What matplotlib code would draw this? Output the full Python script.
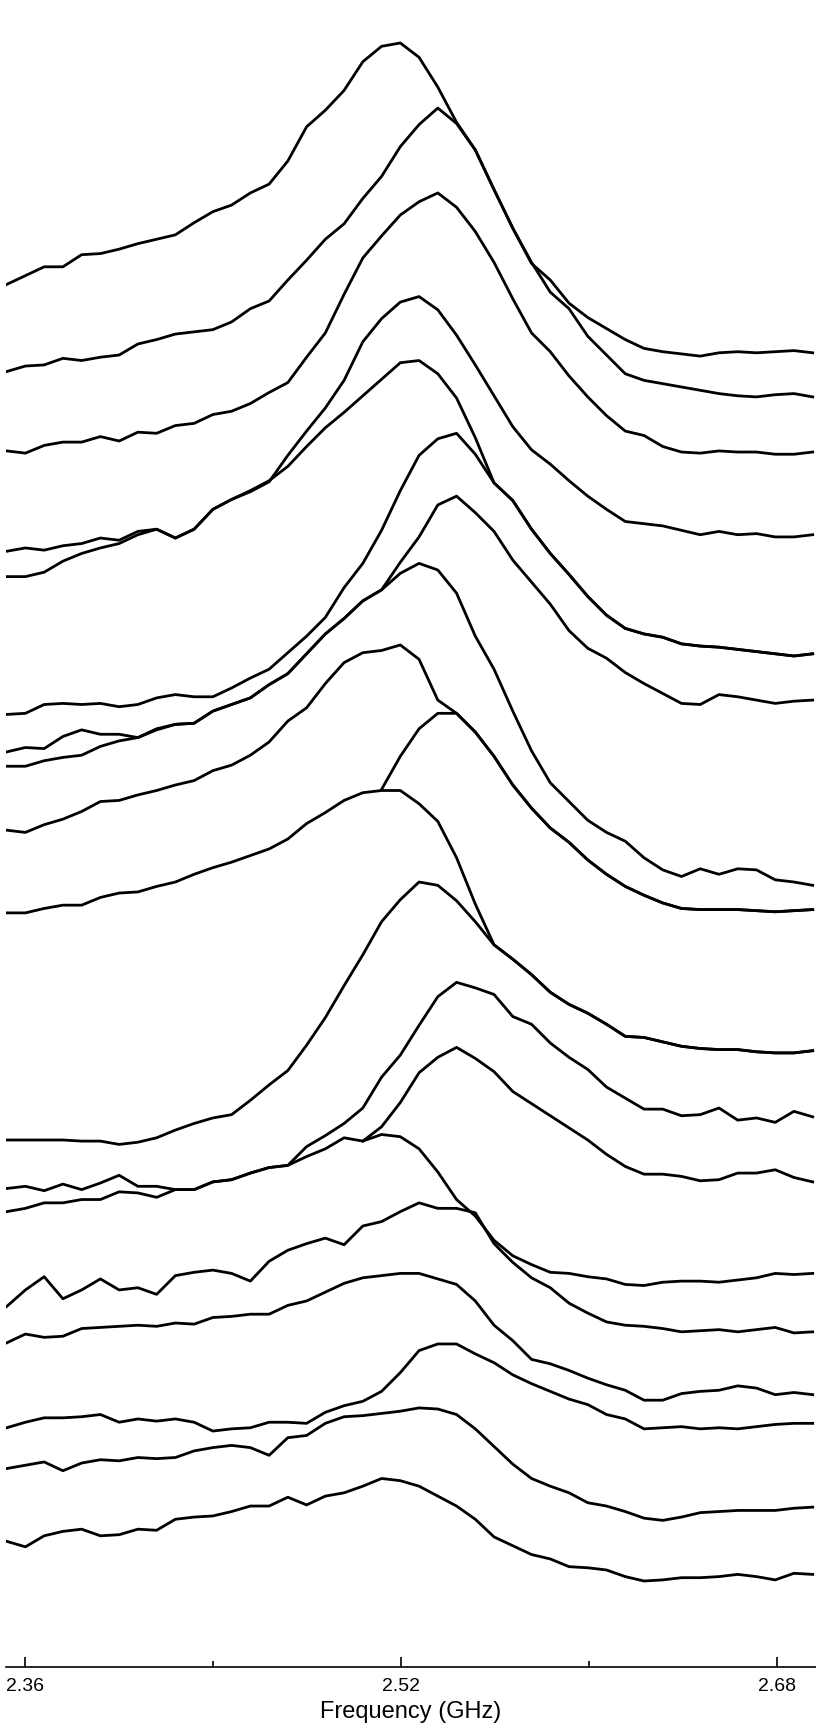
import numpy as np
import matplotlib
matplotlib.use('Agg')
import matplotlib.pyplot as plt

plt.rcParams['font.family'] = ['Liberation Sans', 'DejaVu Sans']

# sample grid of the spectra (GHz)
freq = np.linspace(2.3522, 2.6954, 44)
nan = np.nan

# spectra, top to bottom, already offset (arbitrary units)
A = [12.54, 12.62, 12.70, 12.70, 12.81, 12.82, 12.86, 12.91, 12.95, 12.99, 13.10, 13.20, 13.26, 13.37, 13.45,
     13.66, 13.97, 14.12, 14.30, 14.56, 14.70, 14.73, 14.60, 14.33, 14.01, 13.76, 13.40, 13.05, 12.73, 12.58,
     12.37, 12.24, 12.14, 12.04, 11.96, 11.93, 11.91, 11.89, 11.92, 11.93, 11.92, 11.93, 11.94, 11.92]
B = [11.75, 11.80, 11.81, 11.87, 11.85, 11.88, 11.90, 12.00, 12.04, 12.09, 12.11, 12.13, 12.20, 12.32, 12.39,
     12.58, 12.76, 12.95, 13.09, 13.32, 13.52, 13.79, 13.99, 14.14, 14.00, 13.76, 13.40, 13.05, 12.74, 12.47,
     12.32, 12.07, 11.90, 11.73, 11.67, 11.64, 11.61, 11.58, 11.55, 11.53, 11.52, 11.54, 11.55, 11.52]
C = [11.03, 11.01, 11.08, 11.11, 11.11, 11.16, 11.12, 11.20, 11.19, 11.26, 11.28, 11.36, 11.39, 11.46, 11.56,
     11.65, 11.88, 12.10, 12.45, 12.78, 12.98, 13.17, 13.29, 13.37, 13.24, 13.02, 12.74, 12.41, 12.10, 11.93,
     11.71, 11.52, 11.35, 11.21, 11.17, 11.07, 11.02, 11.01, 11.03, 11.02, 11.02, 11.00, 11.00, 11.02]
D = [10.12, 10.15, 10.13, 10.17, 10.19, 10.24, 10.22, 10.30, 10.32, 10.24, 10.32, 10.50, 10.59, 10.66, 10.75,
     10.99, 11.21, 11.42, 11.67, 12.02, 12.23, 12.38, 12.43, 12.31, 12.08, 11.81, 11.53, 11.25, 11.04, 10.91,
     10.76, 10.62, 10.50, 10.39, 10.37, 10.35, 10.31, 10.27, 10.30, 10.27, 10.28, 10.25, 10.25, 10.27]
E = [9.89, 9.89, 9.93, 10.03, 10.10, 10.15, 10.19, 10.27, 10.32, 10.24, 10.32, 10.50, 10.59, 10.67, 10.76,
     10.89, 11.07, 11.24, 11.38, 11.53, 11.68, 11.83, 11.85, 11.73, 11.51, 11.15, 10.74, 10.58, 10.32, 10.10,
     9.91, 9.71, 9.54, 9.42, 9.37, 9.34, 9.28, 9.26, 9.25, 9.23, 9.21, 9.19, 9.17, 9.19]
F = [8.64, 8.65, 8.73, 8.74, 8.73, 8.74, 8.71, 8.73, 8.79, 8.82, 8.80, 8.80, 8.88, 8.97, 9.05,
     9.20, 9.35, 9.52, 9.79, 10.01, 10.31, 10.67, 10.99, 11.14, 11.19, 11.00, 10.74, 10.58, 10.32, 10.10,
     9.91, 9.71, 9.54, 9.42, 9.37, 9.34, 9.28, 9.26, 9.25, 9.23, 9.21, 9.19, 9.17, 9.19]
G = [8.30, 8.34, 8.33, 8.44, 8.50, 8.46, 8.46, 8.43, 8.51, 8.55, 8.56, 8.67, 8.73, 8.79, 8.91,
     9.01, 9.19, 9.37, 9.51, 9.67, 9.77, 10.02, 10.25, 10.54, 10.62, 10.47, 10.30, 10.04, 9.84, 9.64,
     9.40, 9.24, 9.15, 9.02, 8.92, 8.83, 8.74, 8.73, 8.82, 8.80, 8.77, 8.74, 8.76, 8.77]
H = [8.17, 8.17, 8.22, 8.25, 8.27, 8.35, 8.40, 8.43, 8.50, 8.55, 8.56, 8.67, 8.73, 8.79, 8.91,
     9.01, 9.19, 9.37, 9.51, 9.67, 9.77, 9.92, 10.01, 9.95, 9.74, 9.35, 9.05, 8.67, 8.31, 8.02,
     7.85, 7.68, 7.57, 7.49, 7.34, 7.23, 7.17, 7.24, 7.19, 7.24, 7.23, 7.14, 7.12, 7.09]
I = [7.59, 7.57, 7.64, 7.69, 7.76, 7.85, 7.86, 7.91, 7.95, 8.00, 8.04, 8.13, 8.18, 8.27, 8.39,
     8.58, 8.70, 8.92, 9.11, 9.20, 9.22, 9.27, 9.14, 8.77, 8.65, 8.48, 8.26, 8.00, 7.79, 7.61,
     7.48, 7.32, 7.19, 7.08, 7.00, 6.93, 6.88, 6.87, 6.87, 6.87, 6.86, 6.85, 6.86, 6.87]
# this one has no data below ~2.50 GHz
K = [nan] * 20 + [7.96, 8.26, 8.51, 8.65, 8.65, 8.48, 8.26, 8.00, 7.79, 7.61, 7.48, 7.32, 7.19, 7.08, 7.00,
                  6.93, 6.88, 6.87, 6.87, 6.87, 6.86, 6.85, 6.86, 6.87]
J = [6.84, 6.84, 6.88, 6.91, 6.91, 6.98, 7.02, 7.03, 7.08, 7.12, 7.19, 7.25, 7.30, 7.36, 7.42,
     7.51, 7.65, 7.75, 7.86, 7.93, 7.95, 7.95, 7.83, 7.67, 7.34, 6.92, 6.55, 6.42, 6.28, 6.12,
     6.01, 5.93, 5.83, 5.72, 5.71, 5.67, 5.63, 5.61, 5.60, 5.60, 5.58, 5.57, 5.57, 5.59]
L = [4.78, 4.78, 4.78, 4.78, 4.77, 4.77, 4.74, 4.76, 4.80, 4.87, 4.93, 4.98, 5.01, 5.14, 5.28,
     5.41, 5.64, 5.89, 6.18, 6.46, 6.76, 6.96, 7.12, 7.09, 6.95, 6.76, 6.55, 6.42, 6.28, 6.12,
     6.01, 5.93, 5.83, 5.72, 5.71, 5.67, 5.63, 5.61, 5.60, 5.60, 5.58, 5.57, 5.57, 5.59]
M = [4.34, 4.36, 4.32, 4.38, 4.33, 4.39, 4.46, 4.36, 4.36, 4.33, 4.33, 4.40, 4.42, 4.48, 4.53,
     4.55, 4.72, 4.82, 4.93, 5.07, 5.35, 5.55, 5.82, 6.08, 6.21, 6.16, 6.10, 5.90, 5.83, 5.66,
     5.53, 5.42, 5.26, 5.16, 5.06, 5.06, 5.00, 5.01, 5.07, 4.96, 4.98, 4.94, 5.04, 4.99]
# this one also starts late
N = [nan] * 19 + [4.77, 4.90, 5.12, 5.39, 5.53, 5.62, 5.52, 5.40, 5.22, 5.11, 5.00, 4.89, 4.78, 4.65, 4.54,
                  4.47, 4.47, 4.45, 4.41, 4.42, 4.48, 4.48, 4.51, 4.44, 4.40]
O = [4.13, 4.16, 4.21, 4.21, 4.24, 4.24, 4.31, 4.30, 4.26, 4.33, 4.33, 4.40, 4.42, 4.48, 4.53,
     4.55, 4.63, 4.70, 4.80, 4.77, 4.83, 4.81, 4.70, 4.49, 4.24, 4.09, 3.87, 3.73, 3.65, 3.58,
     3.57, 3.54, 3.52, 3.47, 3.46, 3.49, 3.50, 3.50, 3.49, 3.51, 3.53, 3.57, 3.56, 3.57]
P = [3.27, 3.42, 3.54, 3.34, 3.42, 3.52, 3.42, 3.44, 3.38, 3.55, 3.58, 3.60, 3.57, 3.50, 3.68,
     3.78, 3.84, 3.89, 3.83, 4.00, 4.04, 4.13, 4.21, 4.16, 4.16, 4.12, 3.84, 3.67, 3.53, 3.44,
     3.30, 3.21, 3.13, 3.10, 3.09, 3.07, 3.04, 3.05, 3.06, 3.04, 3.06, 3.08, 3.03, 3.04]
Q = [2.94, 3.02, 2.99, 3.00, 3.07, 3.08, 3.09, 3.10, 3.09, 3.12, 3.11, 3.17, 3.18, 3.20, 3.20,
     3.28, 3.32, 3.40, 3.48, 3.53, 3.55, 3.57, 3.57, 3.52, 3.47, 3.32, 3.10, 2.96, 2.79, 2.75,
     2.69, 2.62, 2.56, 2.51, 2.42, 2.42, 2.48, 2.50, 2.51, 2.55, 2.53, 2.47, 2.49, 2.47]
R = [2.17, 2.22, 2.26, 2.26, 2.27, 2.29, 2.22, 2.25, 2.23, 2.25, 2.22, 2.14, 2.16, 2.17, 2.22,
     2.22, 2.21, 2.31, 2.37, 2.41, 2.50, 2.67, 2.87, 2.93, 2.93, 2.84, 2.76, 2.65, 2.57, 2.50,
     2.43, 2.38, 2.29, 2.25, 2.16, 2.17, 2.18, 2.16, 2.17, 2.16, 2.18, 2.20, 2.21, 2.21]
S = [1.80, 1.83, 1.86, 1.78, 1.85, 1.88, 1.87, 1.90, 1.89, 1.90, 1.96, 1.99, 2.01, 1.99, 1.92,
     2.08, 2.10, 2.21, 2.27, 2.28, 2.30, 2.32, 2.35, 2.34, 2.29, 2.16, 2.00, 1.84, 1.71, 1.64,
     1.58, 1.49, 1.46, 1.41, 1.35, 1.33, 1.36, 1.40, 1.41, 1.42, 1.42, 1.42, 1.44, 1.45]
T = [1.14, 1.09, 1.19, 1.23, 1.25, 1.19, 1.20, 1.25, 1.24, 1.34, 1.36, 1.37, 1.41, 1.46, 1.46,
     1.54, 1.47, 1.55, 1.58, 1.64, 1.71, 1.69, 1.64, 1.55, 1.46, 1.34, 1.18, 1.10, 1.02, 0.98,
     0.91, 0.90, 0.88, 0.82, 0.78, 0.79, 0.81, 0.81, 0.82, 0.84, 0.82, 0.79, 0.85, 0.84]

traces = [A, B, C, D, E, F, G, H, I, K, J, L, M, N, O, P, Q, R, S, T]

major_ticks = [2.36, 2.52, 2.68]
minor_ticks = [2.44, 2.60]

fig = plt.figure(figsize=(8.16, 17.28), dpi=100)
ax = fig.add_axes([0.0076, 0.0353, 0.9924, 0.9647])

for tr in traces:
    ax.plot(freq, tr, color='black', lw=2.0)

ax.set_xlim(2.352, 2.6968)
ax.set_ylim(0, 15.12)

for side in ['top', 'left', 'right']:
    ax.spines[side].set_visible(False)
ax.spines['bottom'].set_linewidth(1.2)

ax.set_yticks([])
ax.set_xticks(major_ticks)
ax.set_xticklabels([f"{t:.2f}" for t in major_ticks])
ax.set_xticks(minor_ticks, minor=True)
ax.tick_params(axis='x', which='major', direction='in', length=7, width=1.2, pad=8, labelsize=14)
ax.tick_params(axis='x', which='minor', direction='in', length=4.3, width=1.2)
ax.set_xlabel("Frequency (GHz)", fontsize=17, labelpad=4)

fig.savefig('out.png', dpi=100)
